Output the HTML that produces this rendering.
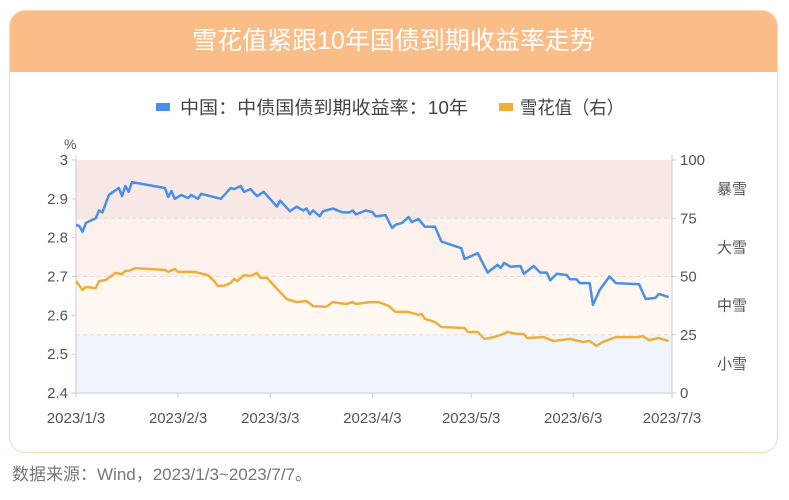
<!DOCTYPE html>
<html><head><meta charset="utf-8">
<style>
body{margin:0;width:789px;height:500px;background:#fff;font-family:"Liberation Sans","Noto Sans CJK SC",sans-serif;overflow:hidden;position:relative}
#card{position:absolute;left:9px;top:10px;width:767px;height:441px;border:1.5px solid #f8d6b6;border-radius:16px;overflow:hidden;background:#fff}
#hdr{position:absolute;left:0;top:0;width:100%;height:61px;background:#fbbd88;color:#fff;font-size:25px;text-align:center;line-height:61px}
#src{position:absolute;left:12px;top:460px;font-size:17px;color:#777}
svg{position:absolute;left:0;top:0}
</style></head><body>
<div id="card"><div id="hdr">雪花值紧跟10年国债到期收益率走势</div></div>
<div id="src">数据来源：Wind，2023/1/3~2023/7/7。</div>
<svg id="chart" width="789" height="500"></svg>
<script>
const blueDays=[0,1,2,3,6,7,8,10,13,14,15,16,17,27,28,29,30,32,34,35,37,38,44,47,48,50,51,53,55,57,61,62,65,67,69,70,71,72,74,75,78,81,83,84,85,88,90,91,94,96,97,99,101,102,104,106,109,111,117,118,122,125,128,129,130,132,135,136,139,141,143,144,146,149,150,152,153,156,157,159,162,164,171,173,176,177,180];
const blueVals=[2.833,2.83,2.815,2.838,2.85,2.87,2.865,2.91,2.928,2.907,2.933,2.918,2.943,2.928,2.905,2.92,2.9,2.91,2.902,2.91,2.9,2.913,2.9,2.928,2.925,2.933,2.918,2.925,2.907,2.918,2.88,2.895,2.868,2.88,2.87,2.875,2.86,2.87,2.855,2.868,2.875,2.865,2.865,2.87,2.86,2.87,2.866,2.855,2.858,2.825,2.833,2.838,2.853,2.84,2.848,2.828,2.828,2.79,2.773,2.745,2.76,2.71,2.73,2.722,2.735,2.725,2.727,2.707,2.727,2.71,2.71,2.69,2.707,2.704,2.693,2.693,2.683,2.683,2.627,2.665,2.7,2.683,2.68,2.642,2.645,2.655,2.647];
const orangeDays=[0,2,3,6,7,9,12,14,15,16,18,27,28,30,31,36,40,42,43,45,47,48,49,51,53,55,56,58,62,64,67,70,72,76,78,82,84,85,89,92,95,97,101,104,105,106,109,111,118,119,122,124,127,129,131,134,136,137,142,145,150,154,156,158,160,164,171,172,174,177,180];
const orangeVals=[48,44.2,45.5,45,48,48.5,51.5,51,52.4,52.4,53.6,52.8,52,53.2,52,52,50.6,48,46,46,47.2,49,48,50.6,50.2,51.5,49.4,49.4,43.3,40.3,39,39.5,37.3,37,39,38.2,39,38.2,39,39,37.3,34.8,34.8,33.5,33.9,31.8,30.5,28.3,27.9,26.2,26.2,23.2,24,24.9,26.2,25.3,25.3,23.6,24,22.3,23.2,21.9,22.3,20.2,21.9,24,24,24.5,22.7,23.6,22.3];
const leftTicks=[2.4,2.5,2.6,2.7,2.8,2.9,3];
const rightTicks=[0,25,50,75,100];
const xTickDays=[0,31,59,90,120,151,181];
const xTickLabels=["2023/1/3","2023/2/3","2023/3/3","2023/4/3","2023/5/3","2023/6/3","2023/7/3"];
const bandLabels=["小雪","中雪","大雪","暴雪"];

const L=76,R=672,T=160,B=393;
const x=d=>L+d/181*(R-L);
const yl=v=>B-(v-2.4)/0.6*(B-T);
const yr=v=>B-v/100*(B-T);
const svg=document.getElementById('chart');
const NS='http://www.w3.org/2000/svg';
function mk(tag,a){const e=document.createElementNS(NS,tag);for(const k in a)e.setAttribute(k,a[k]);svg.appendChild(e);return e;}
const bandColors=['#f0f5fc','#fff8f2','#fdf1ee','#f9e9e6'];
for(let i=0;i<4;i++){
  const r=mk('rect',{x:L,y:yr(rightTicks[i+1]),width:R-L,height:yr(rightTicks[i])-yr(rightTicks[i+1]),fill:bandColors[i]});
  
  
  const t=mk('text',{x:732,y:(yr(rightTicks[i])+yr(rightTicks[i+1]))/2+5,'font-size':15,fill:'#555','text-anchor':'middle'});
  t.textContent=bandLabels[i];
  
  
  if(i>0){const g=mk('line',{x1:L,x2:R,y1:yr(rightTicks[i]),y2:yr(rightTicks[i]),stroke:'#e8dcd6','stroke-dasharray':'4,3'});
  
  }
}
mk('line',{x1:L,x2:L,y1:T-5,y2:B,stroke:'#ccc'});
mk('line',{x1:R,x2:R,y1:T-5,y2:B,stroke:'#ccc'});
mk('line',{x1:L,x2:R,y1:B,y2:B,stroke:'#d6dde6','stroke-width':1.5});
leftTicks.forEach(v=>{
  mk('line',{x1:L-4,x2:L,y1:yl(v),y2:yl(v),stroke:'#ccc'});
  const t=mk('text',{x:L-8,y:yl(v)+5,'font-size':15,fill:'#555','text-anchor':'end'});t.textContent=String(v);
  
  
});
rightTicks.forEach(v=>{
  mk('line',{x1:R,x2:R+4,y1:yr(v),y2:yr(v),stroke:'#ccc'});
  const t=mk('text',{x:R+8,y:yr(v)+5,'font-size':15,fill:'#555'});t.textContent=String(v);
  
  
});
const pct=mk('text',{x:64,y:149,'font-size':14,fill:'#555'});pct.textContent='%';


xTickDays.forEach((d,i)=>{
  mk('line',{x1:x(d),x2:x(d),y1:B,y2:B+5,stroke:'#ccc'});
  const t=mk('text',{x:x(d),y:423,'font-size':15,fill:'#555','text-anchor':'middle'});t.textContent=xTickLabels[i];
  
  
});
const pb=mk('polyline',{points:blueDays.map((d,i)=>x(d)+','+yl(blueVals[i])).join(' '),fill:'none',stroke:'#4a8fe7','stroke-width':2.5,'stroke-linejoin':'round'});


const po=mk('polyline',{points:orangeDays.map((d,i)=>x(d)+','+yr(orangeVals[i])).join(' '),fill:'none',stroke:'#ecb03a','stroke-width':2.5,'stroke-linejoin':'round'});


const lb=mk('rect',{x:156,y:103,width:14,height:8,fill:'#4a8fe7'});


const lt1=mk('text',{x:180,y:114,'font-size':18,fill:'#444',textLength:288,lengthAdjust:'spacingAndGlyphs'});lt1.textContent='中国：中债国债到期收益率：10年';


const lo=mk('rect',{x:499,y:103,width:14,height:8,fill:'#ecb03a'});


const lt2=mk('text',{x:520,y:114,'font-size':18,fill:'#444',textLength:104,lengthAdjust:'spacingAndGlyphs'});lt2.textContent='雪花值（右）';


</script>
</body></html>
